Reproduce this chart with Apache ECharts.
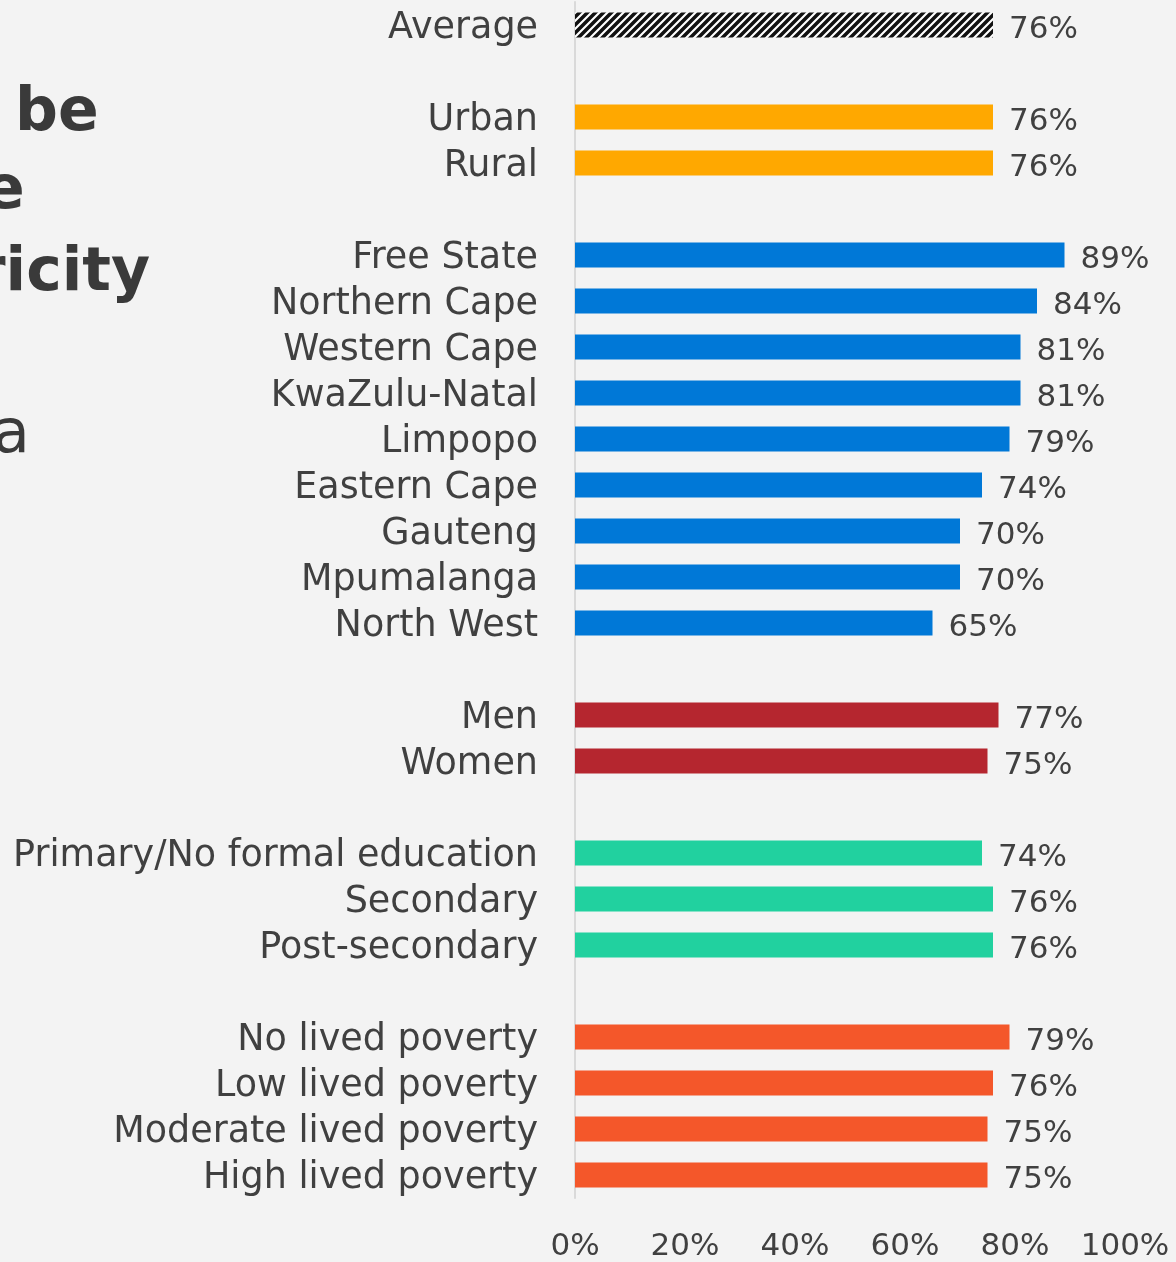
<!DOCTYPE html>
<html>
<head>
<meta charset="utf-8">
<script src="https://cdn.jsdelivr.net/npm/echarts@6/dist/echarts.min.js"></script>
<style>
html,body{margin:0;padding:0;background:#f3f3f3;}
#chart{width:1176px;height:1262px;}
</style>
</head>
<body>
<div id="chart"></div>
<script>
// ---- data ----
const categories = [
  'Average', '',
  'Urban', 'Rural', '',
  'Free State', 'Northern Cape', 'Western Cape', 'KwaZulu-Natal', 'Limpopo',
  'Eastern Cape', 'Gauteng', 'Mpumalanga', 'North West', '',
  'Men', 'Women', '',
  'Primary/No formal education', 'Secondary', 'Post-secondary', '',
  'No lived poverty', 'Low lived poverty', 'Moderate lived poverty', 'High lived poverty'
];
const values = [
  76, null,
  76, 76, null,
  89, 84, 81, 81, 79, 74, 70, 70, 65, null,
  77, 75, null,
  74, 76, 76, null,
  79, 76, 75, 75
];
const groups = [
  'avg', null,
  'loc', 'loc', null,
  'prov', 'prov', 'prov', 'prov', 'prov', 'prov', 'prov', 'prov', 'prov', null,
  'gender', 'gender', null,
  'edu', 'edu', 'edu', null,
  'pov', 'pov', 'pov', 'pov'
];
const xTicks = [0, 20, 40, 60, 80, 100];
const titleFragments = ['be', 'e', 'ricity', 'a'];

// ---- styles ----
function hatch() {
  const c = document.createElement('canvas');
  c.width = 8; c.height = 8;
  const g = c.getContext('2d');
  g.fillStyle = '#ffffff';
  g.fillRect(0, 0, 8, 8);
  g.strokeStyle = '#111111';
  g.lineWidth = 3.5;
  g.beginPath();
  g.moveTo(-2, 10); g.lineTo(10, -2);
  g.moveTo(-6, 6); g.lineTo(6, -6);
  g.moveTo(2, 14); g.lineTo(14, 2);
  g.stroke();
  return c;
}
const groupColors = {
  avg: { image: hatch(), repeat: 'repeat' },
  loc: '#FFA800',
  prov: '#0078D7',
  gender: '#B5262F',
  edu: '#21D19F',
  pov: '#F4572A'
};
const FONT = '"DejaVu Sans", sans-serif';
const TXT = '#404040';

const chart = echarts.init(document.getElementById('chart'), null, { renderer: 'canvas' });

const seriesData = values.map((v, i) => v === null ? '-' : {
  value: v,
  itemStyle: { color: groupColors[groups[i]] }
});

chart.setOption({
  backgroundColor: '#f3f3f3',
  animation: false,
  grid: { left: 575, right: 51, top: 2, bottom: 64, containLabel: false },
  xAxis: {
    type: 'value',
    min: 0, max: 100, interval: 20,
    axisLine: { show: false },
    axisTick: { show: false },
    splitLine: { show: false },
    axisLabel: {
      formatter: v => xTicks.includes(v) ? v + '%' : '',
      fontFamily: FONT, fontSize: 31, color: TXT, margin: 33
    }
  },
  yAxis: {
    type: 'category',
    inverse: true,
    data: categories,
    axisLine: { show: true, lineStyle: { color: '#d9d9d9', width: 2 } },
    axisTick: { show: false },
    axisLabel: {
      interval: 0,
      fontFamily: FONT, fontSize: 36.5, color: TXT, margin: 37,
      verticalAlign: 'top', lineHeight: 8
    }
  },
  series: [{
    type: 'bar',
    data: seriesData,
    barWidth: 25,
    label: {
      show: true,
      position: 'right',
      distance: 16,
      offset: [0, 5],
      formatter: p => p.value + '%',
      fontFamily: FONT, fontSize: 31, color: TXT
    }
  }],
  graphic: [
    { type: 'text', left: 15, top: 84, style: { text: titleFragments[0], font: 'bold 60px "DejaVu Sans"', fill: '#3a3a3a' } },
    { type: 'text', left: -16, top: 162, style: { text: titleFragments[1], font: 'bold 60px "DejaVu Sans"', fill: '#3a3a3a' } },
    { type: 'text', left: -24, top: 244, style: { text: titleFragments[2], font: 'bold 60px "DejaVu Sans"', fill: '#3a3a3a' } },
    { type: 'text', left: -7, top: 406, style: { text: titleFragments[3], font: '60px "DejaVu Sans"', fill: '#3a3a3a' } }
  ]
});
</script>
</body>
</html>
